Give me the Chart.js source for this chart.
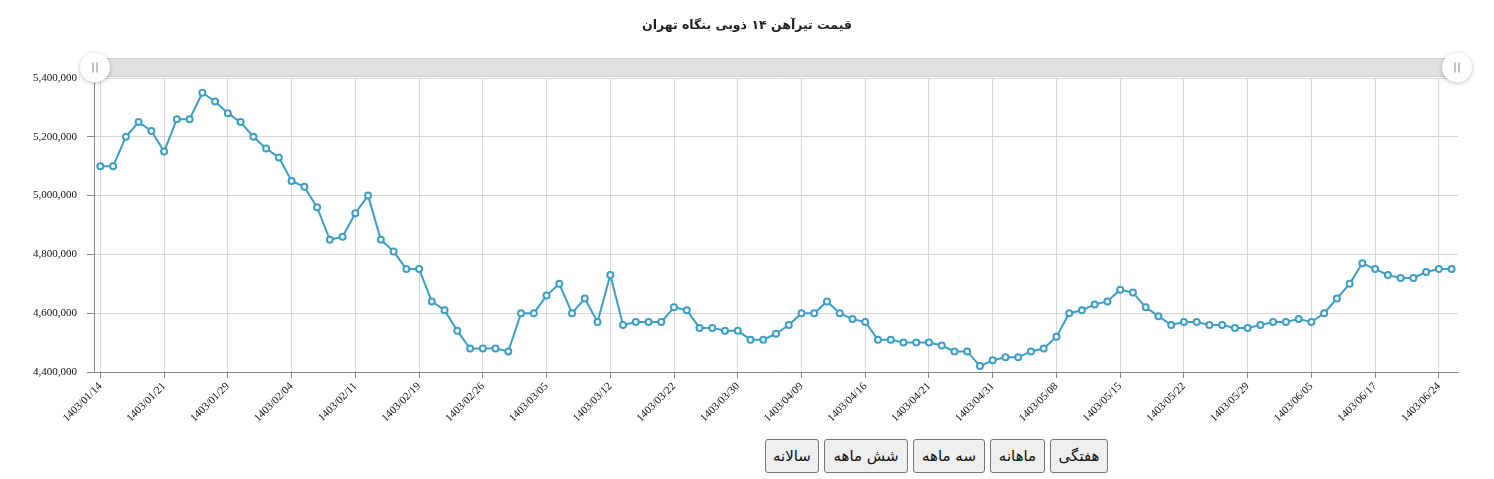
<!doctype html>
<html>

<head>
    <title>قیمت تیرآهن</title>
    <script src="https://cdn.jsdelivr.net/npm/chart.js"></script>
    <style>
        body { margin: 0; background: #fff; }
        #wrap { position: relative; width: 1494px; height: 479px; }
        #titulo {
            position: absolute; top: 17px; left: 0; width: 1494px; text-align: center;
            font-family: "DejaVu Sans", sans-serif; font-weight: bold; font-size: 12.5px; color: #222;
        }
        #btns { position: absolute; top: 439px; right: 386px; direction: rtl; display: flex; gap: 5px; }
        #btns button {
            font-family: "DejaVu Sans", sans-serif; font-size: 15px; height: 34px;
            background: #efefef; border: 1px solid #767676; border-radius: 3px;
            padding: 0; color: #111;
        }
    </style>
</head>

<body>
    <div id="wrap">
        <canvas id="grafico" width="1494" height="430"></canvas>
        <div id="titulo">قیمت تیرآهن ۱۴ ذوبی بنگاه تهران</div>
        <div id="btns">
            <button style="width:58px">هفتگی</button>
            <button style="width:55px">ماهانه</button>
            <button style="width:72px">سه ماهه</button>
            <button style="width:84px">شش ماهه</button>
            <button style="width:54px">سالانه</button>
        </div>
    </div>

    <script>
        // tick labels, one every 5 days
        var tickLabels = ['1403/01/14', '1403/01/21', '1403/01/29', '1403/02/04', '1403/02/11', '1403/02/19',
            '1403/02/26', '1403/03/05', '1403/03/12', '1403/03/22', '1403/03/30', '1403/04/09', '1403/04/16',
            '1403/04/21', '1403/04/31', '1403/05/08', '1403/05/15', '1403/05/22', '1403/05/29', '1403/06/05',
            '1403/06/17', '1403/06/24'];

        // prices (rial)
        var precos = [
            5100000, 5100000, 5200000, 5250000, 5220000, 5150000, 5260000, 5260000, 5350000, 5320000,
            5280000, 5250000, 5200000, 5160000, 5130000, 5050000, 5030000, 4960000, 4850000, 4860000,
            4940000, 5000000, 4850000, 4810000, 4750000, 4750000, 4640000, 4610000, 4540000, 4480000,
            4480000, 4480000, 4470000, 4600000, 4600000, 4660000, 4700000, 4600000, 4650000, 4570000,
            4730000, 4560000, 4570000, 4570000, 4570000, 4620000, 4610000, 4550000, 4550000, 4540000,
            4540000, 4510000, 4510000, 4530000, 4560000, 4600000, 4600000, 4640000, 4600000, 4580000,
            4570000, 4510000, 4510000, 4500000, 4500000, 4500000, 4490000, 4470000, 4470000, 4420000,
            4440000, 4450000, 4450000, 4470000, 4480000, 4520000, 4600000, 4610000, 4630000, 4640000,
            4680000, 4670000, 4620000, 4590000, 4560000, 4570000, 4570000, 4560000, 4560000, 4550000,
            4550000, 4560000, 4570000, 4570000, 4580000, 4570000, 4600000, 4650000, 4700000, 4770000,
            4750000, 4730000, 4720000, 4720000, 4740000, 4750000, 4750000];

        var categorias = precos.map(function (v, i) { return i % 5 === 0 ? tickLabels[i / 5] : ''; });

        var cor = '#3d9ec6';

        // barra de rolagem (apenas visual)
        var scrollbar = {
            id: 'scrollbar',
            afterDraw: function (chart) {
                var ctx = chart.ctx, a = chart.chartArea;
                var y0 = a.top - 20, h = 19;
                ctx.save();
                ctx.fillStyle = '#e0e0e0';
                ctx.fillRect(a.left, y0, a.right - a.left, h);
                ctx.strokeStyle = '#cccccc';
                ctx.lineWidth = 1;
                ctx.strokeRect(a.left + 0.5, y0 + 0.5, a.right - a.left - 1, h - 1);
                [a.left + 1, a.right - 1].forEach(function (x) {
                    var cy = y0 + h / 2;
                    ctx.save();
                    ctx.shadowColor = 'rgba(0,0,0,0.25)';
                    ctx.shadowBlur = 4;
                    ctx.shadowOffsetY = 1;
                    ctx.beginPath();
                    ctx.arc(x, cy, 15, 0, Math.PI * 2);
                    ctx.fillStyle = '#ffffff';
                    ctx.fill();
                    ctx.restore();
                    ctx.strokeStyle = '#888';
                    ctx.lineWidth = 1;
                    ctx.beginPath();
                    ctx.moveTo(x - 2, cy - 5); ctx.lineTo(x - 2, cy + 5);
                    ctx.moveTo(x + 2, cy - 5); ctx.lineTo(x + 2, cy + 5);
                    ctx.stroke();
                });
                ctx.restore();
            }
        };

        var grafico = new Chart(document.getElementById('grafico').getContext('2d'), {
            type: 'line',
            data: {
                labels: categorias,
                datasets: [{
                    data: precos,
                    borderColor: cor,
                    borderWidth: 2,
                    backgroundColor: '#ffffff',
                    pointBackgroundColor: '#ffffff',
                    pointBorderColor: cor,
                    pointBorderWidth: 2,
                    pointRadius: 3,
                    tension: 0
                }]
            },
            plugins: [scrollbar],
            options: {
                responsive: false,
                animation: false,
                layout: { padding: { left: 0, right: 36, top: 78, bottom: 0 } },
                plugins: {
                    legend: { display: false },
                    tooltip: { enabled: false },
                    title: { display: false }
                },
                scales: {
                    x: {
                        offset: true,
                        afterFit: function (s) { s.height = 58; },
                        grid: { offset: false, color: '#d6d6d6', tickLength: 6, tickColor: '#888' },
                        border: { color: '#888' },
                        ticks: {
                            autoSkip: false,
                            maxRotation: 45,
                            minRotation: 45,
                            padding: 2,
                            color: '#111',
                            font: { family: 'Liberation Serif', size: 11 },
                            callback: function (v, i) { return categorias[i] === '' ? null : categorias[i]; }
                        }
                    },
                    y: {
                        min: 4400000,
                        max: 5400000,
                        afterFit: function (s) { s.width = 94; },
                        grid: { color: '#d6d6d6', tickLength: 7, tickColor: '#888' },
                        border: { color: '#888' },
                        ticks: {
                            stepSize: 200000,
                            padding: 10,
                            color: '#111',
                            font: { family: 'Liberation Serif', size: 11 },
                            callback: function (v) { return v.toLocaleString('en-US'); }
                        }
                    }
                }
            }
        });
    </script>
</body>

</html>
